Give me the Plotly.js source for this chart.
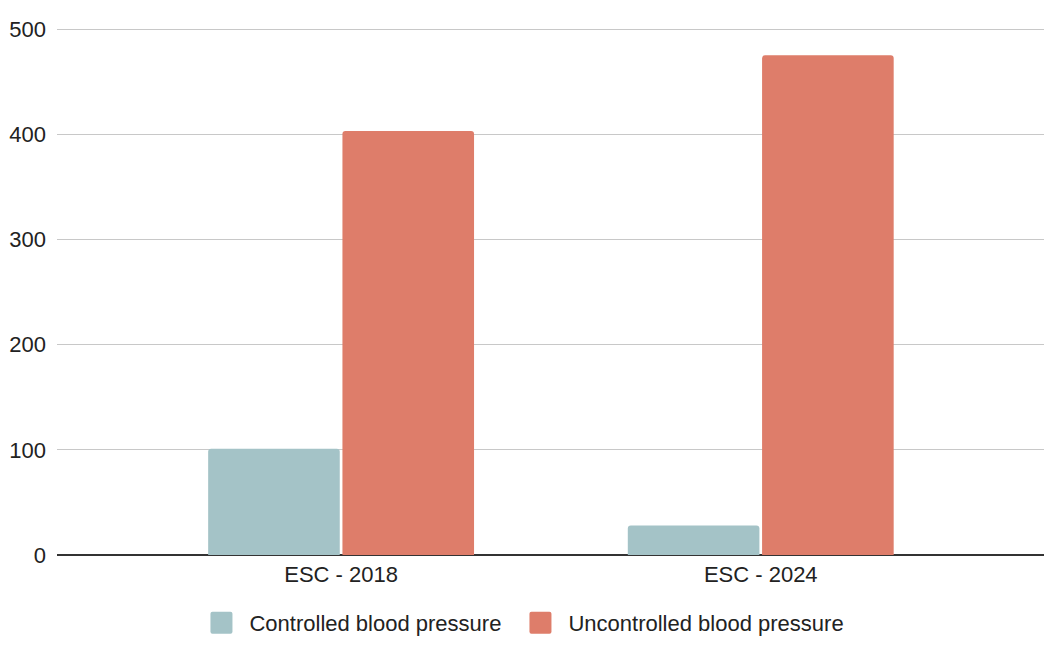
<!DOCTYPE html>
<html>
<head>
<meta charset="utf-8">
<script src="https://cdn.plot.ly/plotly-3.0.1.min.js"></script>
<style>html,body{margin:0;padding:0;background:#fff;}#chart{width:1045px;height:645px;}</style>
</head>
<body>
<div id="chart"></div>
<script>
const categories = ["ESC - 2018", "ESC - 2024"];
const controlled = [101, 28];
const uncontrolled = [403, 475];
const seriesNames = ["Controlled blood pressure", "Uncontrolled blood pressure"];
const yTicks = [0, 100, 200, 300, 400, 500];

const font = {family: "Arial, 'Liberation Sans', sans-serif", size: 22, color: "#222222"};

const traces = [
  {type: "bar", name: seriesNames[0], x: categories, y: controlled,
   marker: {color: "#a4c3c7"}, hoverinfo: "x+y+name"},
  {type: "bar", name: seriesNames[1], x: categories, y: uncontrolled,
   marker: {color: "#de7d6a"}, hoverinfo: "x+y+name"}
];

const layout = {
  width: 1045, height: 645,
  margin: {l: 57, r: 1, t: 28, b: 90},
  paper_bgcolor: "#ffffff", plot_bgcolor: "#ffffff",
  font: font,
  barmode: "group", bargap: 0.36, bargroupgap: 0.02, barcornerradius: 3,
  xaxis: {type: "category", range: [-0.677, 1.675], showgrid: false, zeroline: false,
          showline: false, ticks: "", tickfont: font, ticklabelstandoff: 4},
  yaxis: {range: [0, 501], tickvals: yTicks, ticktext: yTicks.map(String),
          showgrid: true, gridcolor: "#c8c8c8", gridwidth: 1,
          zeroline: true, zerolinecolor: "#333333", zerolinewidth: 1.5,
          ticks: "", tickfont: font, ticklabelstandoff: 10, showline: false},
  showlegend: true,
  legend: {orientation: "h", xref: "container", yref: "container", x: 0.5057, xanchor: "center",
           y: 0.034, yanchor: "middle", font: font, itemclick: false, traceorder: "normal",
           entrywidth: 274, entrywidthmode: "pixels"},
};

Plotly.newPlot("chart", traces, layout, {displayModeBar: false, staticPlot: true}).then(function(gd){
  document.querySelectorAll(".legend .legendpoints path").forEach(function(p){
    p.setAttribute("d", "M-17,-11H1A2,2 0 0 1 3,-9V9A2,2 0 0 1 1,11H-17A2,2 0 0 1 -19,9V-9A2,2 0 0 1 -17,-11Z");
    p.style.strokeWidth = "0";
  });
  document.querySelectorAll(".legend [clip-path]").forEach(function(e){
    e.removeAttribute("clip-path");
  });
});
</script>
</body>
</html>
